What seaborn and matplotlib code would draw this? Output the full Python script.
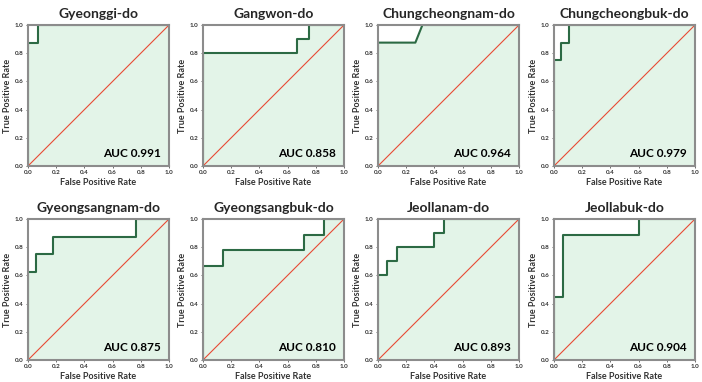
import matplotlib
matplotlib.use("Agg")
import matplotlib.pyplot as plt
import seaborn as sns
import pandas as pd

sns.set_style("white")
plt.rcParams['font.family'] = ['Lato', 'DejaVu Sans']

# region names and AUC values
regions = ["Gyeonggi-do", "Gangwon-do", "Chungcheongnam-do", "Chungcheongbuk-do",
           "Gyeongsangnam-do", "Gyeongsangbuk-do", "Jeollanam-do", "Jeollabuk-do"]
auc_values = [0.991, 0.858, 0.964, 0.979, 0.875, 0.810, 0.893, 0.904]

# roc curve points
fpr_gyeonggi = [0, 0, 0.071, 0.071, 1]
tpr_gyeonggi = [0, 0.875, 0.875, 1, 1]
fpr_gangwon = [0, 0, 0.667, 0.667, 0.75, 0.75, 1]
tpr_gangwon = [0, 0.8, 0.8, 0.9, 0.9, 1, 1]
fpr_cnam = [0, 0, 0.265, 0.315, 1]
tpr_cnam = [0, 0.875, 0.875, 1, 1]
fpr_cbuk = [0, 0, 0.053, 0.053, 0.105, 0.105, 1]
tpr_cbuk = [0, 0.75, 0.75, 0.875, 0.875, 1, 1]
fpr_gnam = [0, 0, 0.059, 0.059, 0.176, 0.176, 0.765, 0.765, 1]
tpr_gnam = [0, 0.625, 0.625, 0.75, 0.75, 0.875, 0.875, 1, 1]
fpr_gbuk = [0, 0, 0.143, 0.143, 0.714, 0.714, 0.857, 0.857, 1]
tpr_gbuk = [0, 0.667, 0.667, 0.778, 0.778, 0.889, 0.889, 1, 1]
fpr_jnam = [0, 0, 0.067, 0.067, 0.133, 0.133, 0.4, 0.4, 0.467, 0.467, 1]
tpr_jnam = [0, 0.6, 0.6, 0.7, 0.7, 0.8, 0.8, 0.9, 0.9, 1, 1]
fpr_jbuk = [0, 0, 0.0625, 0.0625, 0.6, 0.6, 1]
tpr_jbuk = [0, 0.444, 0.444, 0.889, 0.889, 1, 1]

fprs = [fpr_gyeonggi, fpr_gangwon, fpr_cnam, fpr_cbuk, fpr_gnam, fpr_gbuk, fpr_jnam, fpr_jbuk]
tprs = [tpr_gyeonggi, tpr_gangwon, tpr_cnam, tpr_cbuk, tpr_gnam, tpr_gbuk, tpr_jnam, tpr_jbuk]

curve_color = '#2c6a44'
fill_color = '#e3f4e8'
diag_color = '#e84a35'
spine_color = '#8c8c8c'

fig = plt.figure(figsize=(7.02, 3.82), dpi=100)
lefts = [28, 203, 378, 554]
tops = [25, 219]
W, H = 702, 382
aw, ah = 141, 141

for i, region in enumerate(regions):
    row, col = divmod(i, 4)
    ax = fig.add_axes([lefts[col] / W, (H - tops[row] - ah) / H, aw / W, ah / H])
    df = pd.DataFrame({'fpr': fprs[i], 'tpr': tprs[i]})

    #shade the area under the curve
    ax.fill_between(df['fpr'], df['tpr'], 0, color=fill_color, linewidth=0)
    sns.lineplot(data=df, x='fpr', y='tpr', sort=False, estimator=None,
                 color=curve_color, linewidth=1.5, ax=ax)
    sns.lineplot(x=[0, 1], y=[0, 1], color=diag_color, linewidth=0.8, ax=ax)

    ax.set_xlim(0, 1)
    ax.set_ylim(0, 1)
    ax.set_xticks([0, 0.2, 0.4, 0.6, 0.8, 1.0])
    ax.set_yticks([0, 0.2, 0.4, 0.6, 0.8, 1.0])
    ax.tick_params(labelsize=4.5, length=1.5, width=0.5, pad=1.5,
                   colors='#333333', left=True, bottom=True)
    for lab in ax.get_xticklabels() + ax.get_yticklabels():
        lab.set_fontweight('bold')
    for sp in ax.spines.values():
        sp.set_color(spine_color)
        sp.set_linewidth(1.5)

    ax.set_title(region, fontsize=10, fontweight='bold', pad=5)
    ax.set_xlabel('False Positive Rate', fontsize=6.5, fontweight='bold', labelpad=2, color='#333333')
    ax.set_ylabel('True Positive Rate', fontsize=6.5, fontweight='bold', labelpad=2, color='#333333')
    ax.text(0.94, 0.05, f'AUC {auc_values[i]:.3f}', transform=ax.transAxes,
            ha='right', va='bottom', fontsize=8.5, fontweight='bold', color='black')

fig.savefig('out.png', dpi=100)
